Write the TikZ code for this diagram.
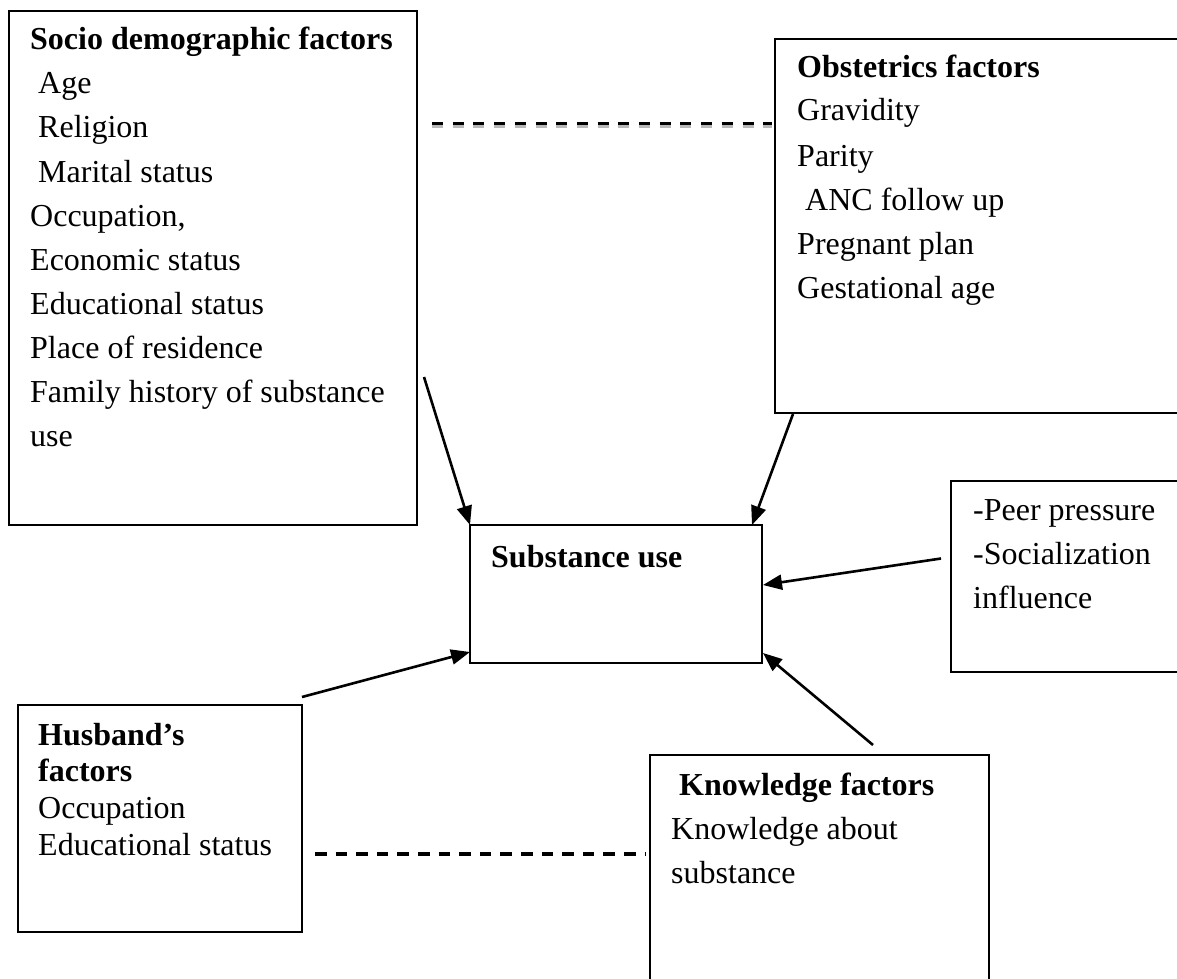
\documentclass[tikz,border=0pt]{standalone}
\usepackage{fontspec}
\setmainfont{Liberation Serif}
\usetikzlibrary{arrows.meta,calc}
\tikzset{
  box/.style={draw, line width=2.5pt, inner sep=0pt, outer sep=0pt, anchor=north west},
  txt/.style={anchor=base west, inner sep=0pt, font=\fontsize{32}{38}\selectfont},
  btxt/.style={txt, font=\fontsize{32}{38}\selectfont\bfseries},
  arr/.style={line width=2.6pt, -{Triangle[length=19pt,width=15pt]}},
  dashtop/.style={line width=4pt, dash pattern=on 11pt off 9.7pt},
  dashbot/.style={line width=3.2pt, dash pattern=on 11.5pt off 9.1pt}
}
\begin{document}
\begin{tikzpicture}[x=1pt,y=-1pt]
\useasboundingbox (0,0) rectangle (1177,979);
\clip (0,0) rectangle (1177,979);
\fill[white] (0,0) rectangle (1177,979);

% boxes
\node[box, minimum width=408pt, minimum height=514pt] (socio) at (9,11) {};
\node[box, minimum width=420pt, minimum height=374pt] (obst) at (775,39) {};
\node[box, minimum width=292pt, minimum height=138pt] (sub) at (470,525) {};
\node[box, minimum width=245pt, minimum height=191pt] (peer) at (951,481) {};
\node[box, minimum width=284pt, minimum height=227pt] (husb) at (18,705) {};
\node[box, minimum width=339pt, minimum height=260pt] (know) at (650,755) {};

% socio demographic texts
\node[btxt] (s0) at (30,50) {Socio demographic factors};
\node[txt] (s1) at (30,94) {\ Age};
\node[txt] (s2) at (30,138) {\ Religion};
\node[txt] (s3) at (30,182) {\ Marital status};
\node[txt] (s4) at (30,226) {Occupation,};
\node[txt] (s5) at (30,270) {Economic status};
\node[txt] (s6) at (30,314) {Educational status};
\node[txt] (s7) at (30,358) {Place of residence};
\node[txt] (s8) at (30,402) {Family history of substance};
\node[txt] (s9) at (30,446) {use};

% obstetrics texts
\node[btxt] (o0) at (797,78) {Obstetrics factors};
\node[txt] (o1) at (797,121) {Gravidity};
\node[txt] (o2) at (797,166) {Parity};
\node[txt] (o3) at (797,210) {\ ANC follow up};
\node[txt] (o4) at (797,254) {Pregnant plan};
\node[txt] (o5) at (797,298) {Gestational age};

% substance use
\node[btxt] (u0) at (491,567) {Substance use};

% peer
\node[txt] (p1) at (973,520) {-Peer pressure};
\node[txt] (p2) at (973,564) {-Socialization};
\node[txt] (p3) at (973,608) {influence};

% husband
\node[btxt] (h0) at (38,745) {Husband’s};
\node[btxt] (h1) at (38,781) {factors};
\node[txt] (h2) at (38,818) {Occupation};
\node[txt] (h3) at (38,855) {Educational status};

% knowledge
\node[btxt] (k0) at (679,795) {Knowledge factors};
\node[txt] (k1) at (671,839) {Knowledge about};
\node[txt] (k2) at (671,883) {substance};

% arrow free ends
\coordinate (a1) at ($(socio.north east)+(7,366)$);
\coordinate (a2) at ($(obst.south west)+(18,1)$);
\coordinate (a3) at ($(peer.west)+(-10,-18)$);
\coordinate (a4) at ($(husb.north east)+(0,-8)$);
\coordinate (a5) at ($(know.north west)+(223,-10)$);

\draw[arr] (a1) -- (sub.north west);
\draw[arr] (a2) -- ($(sub.north east)+(-10,0)$);
\draw[arr] (a3) -- ($(sub.east)+(1,-9)$);
\draw[arr] (a4) -- ($(sub.south west)+(0,-11)$);
\draw[arr] (a5) -- ($(sub.south east)+(1,-10)$);

% dashed links
\draw[dashtop, gray!55] ($(socio.north east)+(15,115)$) -- ($(obst.north west)+(-3,87)$);
\draw[dashtop, line width=3pt] ($(socio.north east)+(15,112.5)$) -- ($(obst.north west)+(-3,84.5)$);
\draw[dashbot] ($(husb.north east)+(13,149)$) -- ($(know.north west)+(-5,99)$);
\end{tikzpicture}
\end{document}
